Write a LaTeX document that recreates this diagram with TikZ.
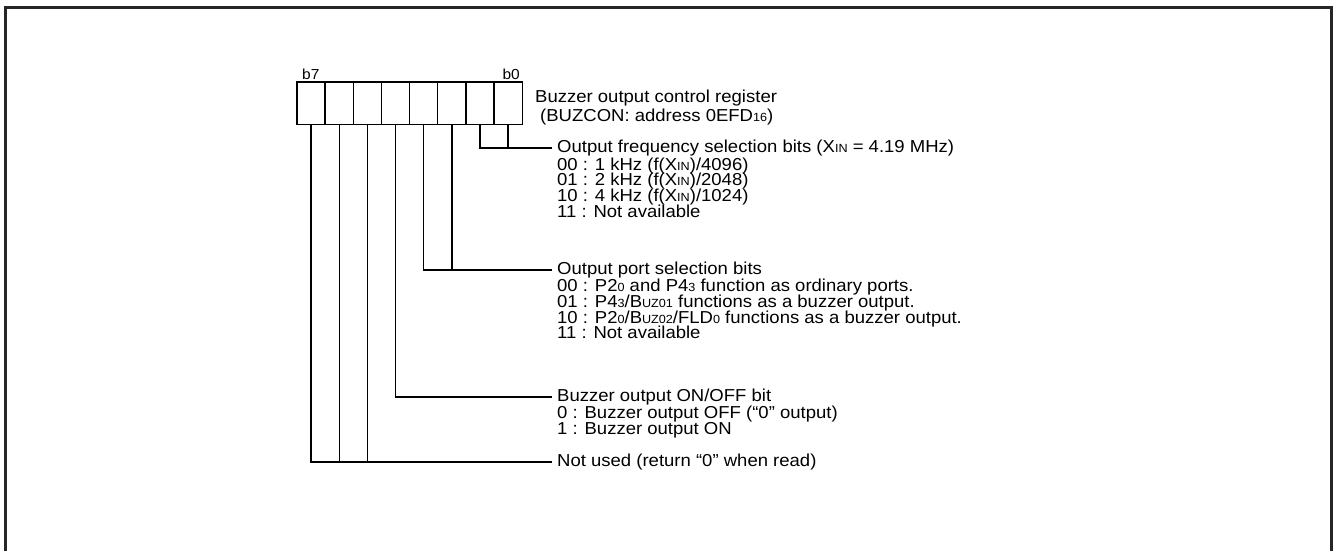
\documentclass[tikz,border=0pt]{standalone}
\usepackage{fontspec}
\setmainfont{Liberation Sans}[FakeStretch=1.07]
\newcommand\smtxt[1]{{\fontsize{11.8}{11}\selectfont #1}}
\begin{document}
\begin{tikzpicture}[x=1pt,y=-1pt,
  frame/.style={line width=3pt, black!85},
  cell/.style={draw, line width=1.4pt, minimum width=28.15pt, minimum height=42.3pt, inner sep=0pt, outer sep=0pt},
  wire/.style={line width=1.4pt},
  thickwire/.style={line width=2.6pt},
  title/.style={anchor=west, inner xsep=5pt, inner ysep=0pt, text height=12.4pt, text depth=3.6pt, font=\fontsize{17.3}{15.5}\selectfont},
  item/.style={anchor=base west, inner sep=0pt, font=\fontsize{17.3}{15.5}\selectfont},
  bitlbl/.style={inner sep=0pt, font=\fontsize{14.5}{14}\selectfont}
]
\useasboundingbox (0,0) rectangle (1335,550);
\draw[frame] (5,553) -- (5,7) -- (1331,7) -- (1331,553);

% register cells
\foreach \k in {0,...,7}{
  \pgfmathtruncatemacro\bit{7-\k}
  \node[cell] (bit\bit) at ({297+(\k+0.5)*28.15},103.2) {};
}
\node[bitlbl, anchor=base west] (lb7) at (302,79) {b7};
\node[bitlbl, anchor=base east] (lb0) at (520,79) {b0};

% register caption
\node[item] (cap1) at (535,102.5) {Buzzer output control register};
\node[item] (cap2) at (540,121) {(BUZCON: address 0EFD\smtxt{16})};

% frequency selection
\node[title] (fT) at (552,148) {Output frequency selection bits (X\smtxt{IN} = 4.19 MHz)};
\node[item] (f1) at (557,170.3) {00 : 1 kHz (f(X\smtxt{IN})/4096)};
\node[item] (f2) at (557,185.9) {01 : 2 kHz (f(X\smtxt{IN})/2048)};
\node[item] (f3) at (557,201.5) {10 : 4 kHz (f(X\smtxt{IN})/1024)};
\node[item] (f4) at (557,217.1) {11 : Not available};
\draw[wire] (bit1.south) |- (fT.west -| bit0.south);
\draw[wire] (bit0.south) -- (bit0.south |- fT.west);
\draw[thickwire] (bit0.south |- fT.west) -- (fT.west);

% port selection
\node[title] (pT) at (552,270) {Output port selection bits};
\node[item] (p1) at (557,291.8) {00 : P2\smtxt{0} and P4\smtxt{3} function as ordinary ports.};
\node[item] (p2) at (557,307.4) {01 : P4\smtxt{3}/B\smtxt{UZ01} functions as a buzzer output.};
\node[item] (p3) at (557,323) {10 : P2\smtxt{0}/B\smtxt{UZ02}/FLD\smtxt{0} functions as a buzzer output.};
\node[item] (p4) at (557,338.6) {11 : Not available};
\draw[wire] (bit3.south) |- (pT.west);
\draw[wire] (bit2.south) -- (bit2.south |- pT.west);

% on/off
\node[title] (oT) at (552,397) {Buzzer output ON/OFF bit};
\node[item] (o1) at (557,418.8) {0 : Buzzer output OFF (“0” output)};
\node[item] (o2) at (557,434.4) {1 : Buzzer output ON};
\draw[wire] (bit4.south) |- (oT.west);

% not used
\node[title] (nT) at (552,462) {Not used (return “0” when read)};
\draw[wire] (bit7.south) |- (nT.west);
\draw[wire] (bit6.south) -- (bit6.south |- nT.west);
\draw[wire] (bit5.south) -- (bit5.south |- nT.west);
\end{tikzpicture}
\end{document}
